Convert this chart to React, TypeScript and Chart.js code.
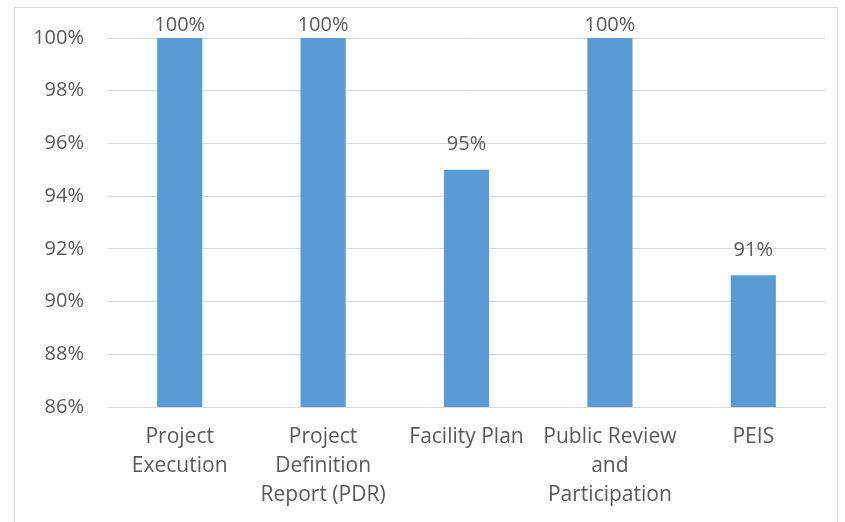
import React, { useEffect, useRef } from "react";
import { Chart, registerables } from "chart.js";
Chart.register(...registerables);

const categories: string[][] = [
  ["Project", "Execution"],
  ["Project", "Definition", "Report (PDR)"],
  ["Facility Plan"],
  ["Public Review", "and", "Participation"],
  ["PEIS"],
];
const values: number[] = [100, 100, 95, 100, 91];
const yTicks: number[] = [86, 88, 90, 92, 94, 96, 98, 100];

const FONT = "'Open Sans', sans-serif";
const TEXT = "#595959";
const SIZE = 20;
const XSIZE = 21;

const labelPlugin = {
  id: "barLabels",
  afterDatasetsDraw(chart: any) {
    const ctx = chart.ctx;
    const meta = chart.getDatasetMeta(0);
    ctx.save();
    ctx.font = `${SIZE}px ${FONT}`;
    ctx.fillStyle = TEXT;
    ctx.textAlign = "center";
    ctx.textBaseline = "middle";
    meta.data.forEach((bar: any, i: number) => {
      const y = Math.max(bar.y - 25, 25);
      ctx.fillText(values[i] + "%", bar.x, y);
    });
    ctx.restore();
  },
};

export default function App() {
  const ref = useRef<HTMLCanvasElement>(null);
  useEffect(() => {
    if (!ref.current) return;
    const chart = new Chart(ref.current, {
      type: "bar",
      data: {
        labels: categories as any,
        datasets: [
          {
            data: values,
            backgroundColor: "#5B9BD5",
            categoryPercentage: 1,
            barPercentage: 0.315,
          },
        ],
      },
      options: {
        animation: false,
        responsive: false,
        maintainAspectRatio: false,
        layout: { padding: { top: 38, right: 20, bottom: 0, left: 0 } },
        plugins: { legend: { display: false }, tooltip: { enabled: false } },
        scales: {
          x: {
            grid: { display: false, drawTicks: false },
            border: { display: true, color: "#d9d9d9", width: 1 },
            ticks: {
              color: TEXT,
              font: { family: FONT, size: XSIZE, lineHeight: 29 / XSIZE },
              padding: 16,
              maxRotation: 0,
              autoSkip: false,
            },
            afterFit: (s: any) => {
              s.height = 115;
            },
          },
          y: {
            min: 86,
            max: 100,
            afterBuildTicks: (s: any) => {
              s.ticks = yTicks.map((v) => ({ value: v }));
            },
            grid: { color: "#d9d9d9", drawTicks: false },
            border: { display: false },
            ticks: {
              color: TEXT,
              font: { family: FONT, size: SIZE },
              padding: 24,
              callback: (v: any) => v + "%",
            },
            afterFit: (s: any) => {
              s.width = 108;
            },
          },
        },
      },
      plugins: [labelPlugin],
    });
    return () => chart.destroy();
  }, []);
  return (
    <div style={{ position: "fixed", left: 0, top: 0, width: 845, height: 522, background: "#fff" }}>
      <div
        style={{
          position: "absolute",
          left: 14,
          top: 7,
          width: 824,
          height: 520,
          border: "1px solid #d9d9d9",
          boxSizing: "border-box",
        }}
      />
      <canvas ref={ref} width={845} height={522} style={{ position: "absolute", left: 0, top: 0 }} />
    </div>
  );
}
